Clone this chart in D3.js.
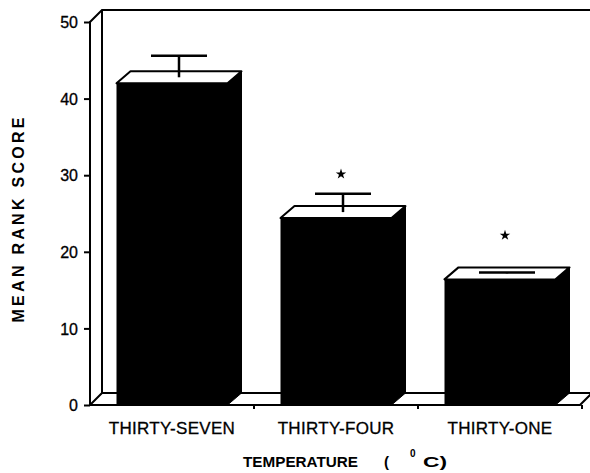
<!DOCTYPE html>
<html>
<head>
<meta charset="utf-8">
<script src="https://cdn.jsdelivr.net/npm/d3@7"></script>
<style>
  body { margin: 0; background: #fff; }
  text { font-family: "Liberation Sans", Arial, sans-serif; fill: #000; }
</style>
</head>
<body>
<svg id="chart" width="590" height="473"></svg>
<script>
// data
var categories = ["THIRTY-SEVEN", "THIRTY-FOUR", "THIRTY-ONE"]
var meanRank = [42.0, 24.4, 16.4]
var errUp = [2.8, 2.4, 0.1]
var starred = [false, true, true]
var yTicks = [0, 10, 20, 30, 40, 50]

var svg = d3.select("#chart")

///////// scales
var xScale = d3.scaleBand().domain(categories).range([90, 582]).paddingInner(0).paddingOuter(0)
var yScale = d3.scaleLinear().domain([0, 50]).range([405, 22])

var wallDx = 12, wallDy = -12   // depth of the box walls
var barDx = 14, barDy = -12     // depth of the bars
var barW = 111

var line = d3.line()

var y0 = yScale(0), yTop = yScale(50)
var xL = xScale.range()[0]

// left side wall (white) + back wall edges
svg.append("path")
   .attr("d", line([[xL, y0], [xL, yTop], [xL + wallDx, yTop + wallDy], [xL + wallDx, y0 + wallDy]]) + "Z")
   .attr("fill", "#fff").attr("stroke", "none")
svg.append("path")
   .attr("d", line([[xL, y0], [xL, yTop], [xL + wallDx, yTop + wallDy], [590, yTop + wallDy]]))
   .attr("fill", "none").attr("stroke", "#000").attr("stroke-width", 2)
svg.append("path")
   .attr("d", line([[xL + wallDx, yTop + wallDy], [xL + wallDx, y0 + wallDy]]))
   .attr("fill", "none").attr("stroke", "#000").attr("stroke-width", 2)

// floor
var xR = 580
svg.append("path")
   .attr("d", line([[xL, y0], [xR, y0], [xR + wallDx, y0 + wallDy], [xL + wallDx, y0 + wallDy]]) + "Z")
   .attr("fill", "#fff").attr("stroke", "#000").attr("stroke-width", 2).attr("stroke-linejoin", "round")

// category ticks under the floor
svg.selectAll(".xtick")
   .data(categories)
   .enter()
   .append("line")
   .attr("class", "xtick")
   .attr("x1", function(d) { return xScale(d) + xScale.bandwidth() })
   .attr("x2", function(d) { return xScale(d) + xScale.bandwidth() })
   .attr("y1", y0).attr("y2", y0 + 4)
   .attr("stroke", "#000").attr("stroke-width", 2)

// y axis (domain line drawn above as the box edge)
var yAxis = svg.append("g")
   .attr("transform", "translate(" + xL + ",0)")
   .call(d3.axisLeft(yScale).tickValues(yTicks).tickSize(6).tickPadding(6))
yAxis.select(".domain").remove()
yAxis.selectAll(".tick line").attr("stroke", "#000").attr("stroke-width", 2)
yAxis.selectAll(".tick text")
   .style("font-size", "16px")
   .style("font-family", "'Liberation Sans', Arial, sans-serif")
   .style("stroke", "#000").style("stroke-width", 0.3)
   .attr("dy", "0.36em")

///////// bars
var bars = svg.selectAll(".bar")
   .data(categories)
   .enter()
   .append("g")
   .attr("class", "bar")

bars.each(function(d, i) {
    var g = d3.select(this)
    var cx = xScale(d) + xScale.bandwidth() / 2
    var x0 = cx - barW / 2, x1 = cx + barW / 2
    var yv = yScale(meanRank[i])
    // front face
    g.append("rect")
     .attr("x", x0).attr("y", yv).attr("width", barW).attr("height", y0 - yv)
     .attr("fill", "#000")
    // right side face
    g.append("path")
     .attr("d", line([[x1, yv], [x1 + barDx, yv + barDy], [x1 + barDx, y0 + barDy], [x1, y0]]) + "Z")
     .attr("fill", "#000").attr("stroke", "#000").attr("stroke-width", 1)
    // top face
    g.append("path")
     .attr("d", line([[x0, yv], [x1, yv], [x1 + barDx, yv + barDy], [x0 + barDx, yv + barDy]]) + "Z")
     .attr("fill", "#fff").attr("stroke", "#000").attr("stroke-width", 2).attr("stroke-linejoin", "round")

    // error bar in the middle of the bar depth
    var ex = cx + barDx / 2
    var eyBase = yv + barDy / 2
    var eyTop = yScale(meanRank[i] + errUp[i]) + barDy / 2
    g.append("line")
     .attr("x1", ex).attr("x2", ex).attr("y1", eyBase).attr("y2", eyTop)
     .attr("stroke", "#000").attr("stroke-width", 2.5)
    g.append("line")
     .attr("x1", ex - 28).attr("x2", ex + 28).attr("y1", eyTop).attr("y2", eyTop)
     .attr("stroke", "#000").attr("stroke-width", 2.5)

    if (starred[i]) {
        g.append("path")
         .attr("d", d3.symbol().type(d3.symbolStar).size(34)())
         .attr("transform", "translate(" + (ex - 2) + "," + (yv + barDy - 32) + ")")
         .attr("fill", "#000")
    }
})

// category labels
svg.selectAll(".xlabel")
   .data(categories)
   .enter()
   .append("text")
   .attr("class", "xlabel")
   .attr("x", function(d) { return xScale(d) + xScale.bandwidth() / 2 })
   .attr("y", 434)
   .attr("text-anchor", "middle")
   .style("font-size", "17px")
   .style("letter-spacing", "0.3px")
   .style("stroke", "#000").style("stroke-width", 0.3)
   .text(function(d) { return d })

// axis titles
var xTitle = svg.append("g")
   .style("font-size", "15px").style("font-weight", "bold")
xTitle.append("text").attr("x", 243).attr("y", 467)
   .attr("textLength", 115).attr("lengthAdjust", "spacingAndGlyphs")
   .text("TEMPERATURE")
xTitle.append("text").attr("x", 384).attr("y", 467).text("(")
xTitle.append("text").attr("x", 410).attr("y", 457).style("font-size", "10px").text("0")
xTitle.append("text").attr("x", 423).attr("y", 467)
   .attr("textLength", 24).attr("lengthAdjust", "spacingAndGlyphs")
   .text("C)")

svg.append("text")
   .attr("transform", "translate(24,220) rotate(-90)")
   .attr("text-anchor", "middle")
   .attr("textLength", 205).attr("lengthAdjust", "spacing")
   .style("font-size", "16px").style("font-weight", "bold")
   .text("MEAN RANK SCORE")
</script>
</body>
</html>
